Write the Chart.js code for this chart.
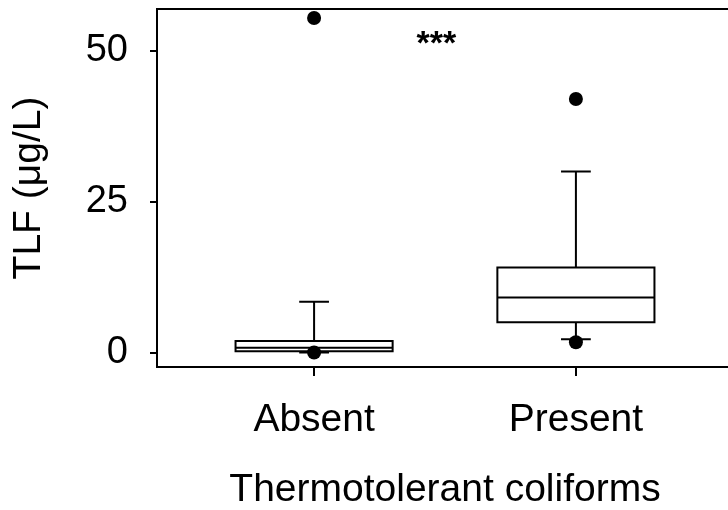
<!DOCTYPE html>
<html>
<head>
<meta charset="utf-8">
<script src="https://cdn.jsdelivr.net/npm/chart.js@4"></script>
<style>
  html, body { margin: 0; padding: 0; background: #fff; overflow: hidden; }
  #wrap { width: 740px; height: 510px; }
</style>
</head>
<body>
<div id="wrap"><canvas id="tlf_chart"></canvas></div>
<script>
// box plot values (TLF, ug/L)
const categories = ["Absent", "Present"];
const whisker_low = [0.0, 2.2];
const q1 = [0.2, 5.0];
const median = [0.8, 9.1];
const q3 = [1.9, 14.1];
const whisker_high = [8.4, 30.0];
const outliers = [[55.4, 0.0], [42.0, 1.7]];
const y_ticks = [0, 25, 50];
const sig_label = "***";

const box_half = 0.3;
const cap_half = 0.053;
const gap = { x: null, y: null };

const box_lines = [];
const outlier_points = [];
categories.forEach((c, i) => {
  const x = i + 1;
  // box
  box_lines.push(
    { x: x - box_half, y: q1[i] }, { x: x + box_half, y: q1[i] },
    { x: x + box_half, y: q3[i] }, { x: x - box_half, y: q3[i] },
    { x: x - box_half, y: q1[i] }, gap
  );
  // median
  box_lines.push({ x: x - box_half, y: median[i] }, { x: x + box_half, y: median[i] }, gap);
  // whiskers + caps
  box_lines.push({ x: x, y: q3[i] }, { x: x, y: whisker_high[i] }, gap);
  box_lines.push({ x: x - cap_half, y: whisker_high[i] }, { x: x + cap_half, y: whisker_high[i] }, gap);
  box_lines.push({ x: x, y: q1[i] }, { x: x, y: whisker_low[i] }, gap);
  box_lines.push({ x: x - cap_half, y: whisker_low[i] }, { x: x + cap_half, y: whisker_low[i] }, gap);
  outliers[i].forEach(v => outlier_points.push({ x: x, y: v }));
});

const sig_plugin = {
  id: "sig",
  afterDatasetsDraw(chart) {
    const { ctx, scales } = chart;
    ctx.save();
    ctx.font = "bold 34px 'Liberation Sans', Arial, sans-serif";
    ctx.textAlign = "center";
    ctx.textBaseline = "alphabetic";
    ctx.fillStyle = "#000";
    ctx.fillText(sig_label, scales.x.getPixelForValue(1.467), scales.y.getPixelForValue(49.4));
    ctx.restore();
  }
};

Chart.defaults.font.family = "'Liberation Sans', Arial, sans-serif";
Chart.defaults.color = "#000";

const tlf_ctx = document.getElementById("tlf_chart");
const tlf_chart = new Chart(tlf_ctx, {
  type: "scatter",
  data: {
    datasets: [
      {
        data: outlier_points,
        xAxisID: "x",
        yAxisID: "y",
        pointRadius: 7,
        pointBackgroundColor: "#000",
        pointBorderWidth: 0,
        order: 0,
      },
      {
        data: box_lines,
        xAxisID: "x",
        yAxisID: "y",
        showLine: true,
        spanGaps: false,
        pointRadius: 0,
        borderColor: "#000",
        borderWidth: 2,
        borderCapStyle: "square",
        borderJoinStyle: "miter",
        tension: 0,
        order: 1,
      },
    ],
  },
  options: {
    animation: false,
    responsive: true,
    maintainAspectRatio: false,
    layout: { padding: { left: 0, right: 7, top: 0, bottom: 0 } },
    plugins: {
      legend: { display: false },
      tooltip: { enabled: false },
    },
    scales: {
      x: {
        type: "linear",
        position: "bottom",
        min: 0.4,
        max: 2.6,
        afterBuildTicks: s => { s.ticks = categories.map((c, i) => ({ value: i + 1 })); },
        afterFit: s => { s.height = 143; s.paddingLeft = 0; s.paddingRight = 0; },
        ticks: {
          callback: v => categories[Math.round(v) - 1],
          font: { size: 39, lineHeight: 1 },
          padding: 25,
          maxRotation: 0,
          autoSkip: false,
        },
        grid: { drawOnChartArea: false, tickLength: 9, color: "#000", lineWidth: 2 },
        border: { color: "#000", width: 2 },
        title: {
          display: true,
          text: "Thermotolerant coliforms",
          font: { size: 39, lineHeight: 1 },
          padding: 0,
        },
      },
      x2: {
        type: "linear",
        position: "top",
        min: 0,
        max: 1,
        afterFit: s => { s.height = 9; s.paddingLeft = 0; s.paddingRight = 0; },
        ticks: { display: false },
        grid: { display: false },
        border: { display: true, color: "#000", width: 2 },
      },
      y: {
        type: "linear",
        min: -2.4,
        max: 56.9,
        afterBuildTicks: s => { s.ticks = y_ticks.map(v => ({ value: v })); },
        afterFit: s => { s.width = 157; s.paddingTop = 0; s.paddingBottom = 0; },
        ticks: {
          font: { size: 38, lineHeight: 1 },
          padding: 22,
        },
        grid: { drawOnChartArea: false, tickLength: 7, color: "#000", lineWidth: 2 },
        border: { color: "#000", width: 2 },
        title: {
          display: true,
          text: "TLF (μg/L)",
          font: { size: 39, lineHeight: 1 },
          padding: { top: 9.5, bottom: 0 },
        },
      },
    },
  },
  plugins: [sig_plugin],
});
</script>
</body>
</html>
